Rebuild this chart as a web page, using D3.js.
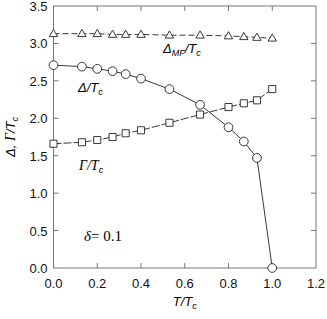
<!DOCTYPE html>
<html>
<head>
<meta charset="utf-8">
<script src="https://cdn.jsdelivr.net/npm/d3@7"></script>
<style>
  body { margin: 0; background: #fff; }
  svg { display: block; font-family: "Liberation Sans", Arial, sans-serif; }
</style>
</head>
<body>
<script>
// data
const tVals = [0, 0.13, 0.2, 0.27, 0.33, 0.4, 0.53, 0.67, 0.8, 0.87, 0.93, 1.0];
const deltaMF = [3.13, 3.13, 3.13, 3.12, 3.12, 3.12, 3.11, 3.11, 3.10, 3.09, 3.08, 3.07];
const delta = [2.71, 2.69, 2.66, 2.63, 2.59, 2.53, 2.39, 2.18, 1.88, 1.69, 1.47, 0];
const gamma = [1.66, 1.68, 1.71, 1.75, 1.80, 1.84, 1.94, 2.05, 2.15, 2.20, 2.24, 2.39];
const xTicks = [0, 0.2, 0.4, 0.6, 0.8, 1.0, 1.2];
const yTicks = [0, 0.5, 1.0, 1.5, 2.0, 2.5, 3.0, 3.5];

const W = 327, H = 319;
const m = { left: 53.5, right: 11, top: 6, bottom: 51 };
const SERIF = '"Liberation Serif", "Times New Roman", serif';

const svg = d3.select("body").append("svg").attr("width", W).attr("height", H);

const x = d3.scaleLinear().domain([0, 1.2]).range([m.left, W - m.right]);
const y = d3.scaleLinear().domain([0, 3.5]).range([H - m.bottom, m.top]);

const axisCol = "#777";

// frame + inward ticks on all sides
const g = svg.append("g");
g.append("rect")
  .attr("x", x(0)).attr("y", y(3.5))
  .attr("width", x(1.2) - x(0)).attr("height", y(0) - y(3.5))
  .attr("fill", "none").attr("stroke", axisCol).attr("stroke-width", 1);

const tl = 5;
xTicks.slice(1, -1).forEach(v => {
  g.append("line").attr("x1", x(v)).attr("x2", x(v)).attr("y1", y(0)).attr("y2", y(0) - tl).attr("stroke", axisCol);
  g.append("line").attr("x1", x(v)).attr("x2", x(v)).attr("y1", y(3.5)).attr("y2", y(3.5) + tl).attr("stroke", axisCol);
});
yTicks.slice(1, -1).forEach(v => {
  g.append("line").attr("x1", x(0)).attr("x2", x(0) + tl).attr("y1", y(v)).attr("y2", y(v)).attr("stroke", axisCol);
  g.append("line").attr("x1", x(1.2)).attr("x2", x(1.2) - tl).attr("y1", y(v)).attr("y2", y(v)).attr("stroke", axisCol);
});

// tick labels
g.selectAll(".xl").data(xTicks).enter().append("text")
  .attr("x", d => x(d)).attr("y", y(0) + 20)
  .attr("text-anchor", "middle").attr("font-size", 13).attr("fill", "#111")
  .text(d => d.toFixed(1));
g.selectAll(".yl").data(yTicks).enter().append("text")
  .attr("x", x(0) - 6).attr("y", d => y(d) + 5)
  .attr("text-anchor", "end").attr("font-size", 13).attr("fill", "#111")
  .text(d => d.toFixed(1));

// axis titles
const xt = svg.append("text").attr("x", x(0.6)).attr("y", 306)
  .attr("text-anchor", "middle").attr("font-size", 13).attr("font-style", "italic");
xt.append("tspan").text("T/T");
xt.append("tspan").attr("font-size", 9).attr("dy", 3).text("c");

const yt = svg.append("text")
  .attr("transform", `translate(15,${y(1.75)}) rotate(-90)`)
  .attr("text-anchor", "middle").attr("font-size", 13).attr("font-style", "italic");
yt.append("tspan").text("Δ, ");
yt.append("tspan").style("font-family", SERIF).attr("font-size", 14).text("Γ");
yt.append("tspan").text("/T");
yt.append("tspan").attr("font-size", 9).attr("dy", 3).text("c");

// series
const pts = vals => tVals.map((t, i) => [t, vals[i]]);
const line = d3.line().x(d => x(d[0])).y(d => y(d[1]));

function series(vals, dash, shape) {
  svg.append("path").datum(pts(vals))
    .attr("d", line).attr("fill", "none").attr("stroke", "#222")
    .attr("stroke-width", 0.9).attr("stroke-dasharray", dash);
  const sym = d3.symbol().type(shape.type).size(shape.size);
  svg.selectAll(null).data(pts(vals)).enter().append("path")
    .attr("transform", d => `translate(${x(d[0])},${y(d[1]) + (shape.dy || 0)})`)
    .attr("d", sym).attr("fill", "#fff").attr("stroke", "#222").attr("stroke-width", 0.9);
}

series(deltaMF, "6,3", { type: d3.symbolTriangle, size: 30, dy: 0.5 });
series(gamma, "8,2", { type: d3.symbolSquare, size: 50 });
series(delta, null, { type: d3.symbolCircle, size: 60 });

// curve labels
function label(xp, yp, parts) {
  const t = svg.append("text").attr("x", xp).attr("y", yp)
    .attr("font-size", 13).attr("font-style", "italic");
  parts.forEach(p => {
    const s = t.append("tspan").text(p.t);
    if (p.sub) s.attr("font-size", 9).attr("dy", p.dy);
    if (p.dy && !p.sub) s.attr("dy", p.dy);
    if (p.serif) s.style("font-family", SERIF).attr("font-size", 14);
  });
}
label(163, 53, [{ t: "Δ" }, { t: "MF", sub: true, dy: 3 }, { t: "/T", dy: -3 }, { t: "c", sub: true, dy: 3 }]);
label(78, 92, [{ t: "Δ/T" }, { t: "c", sub: true, dy: 3 }]);
label(79, 170, [{ t: "Γ/T", serif: true }, { t: "c", sub: true, dy: 3 }]);

const dl = svg.append("text").attr("x", 84).attr("y", 241)
  .style("font-family", SERIF).attr("font-size", 15);
dl.append("tspan").attr("font-style", "italic").text("δ");
dl.append("tspan").text("= 0.1");
</script>
</body>
</html>
